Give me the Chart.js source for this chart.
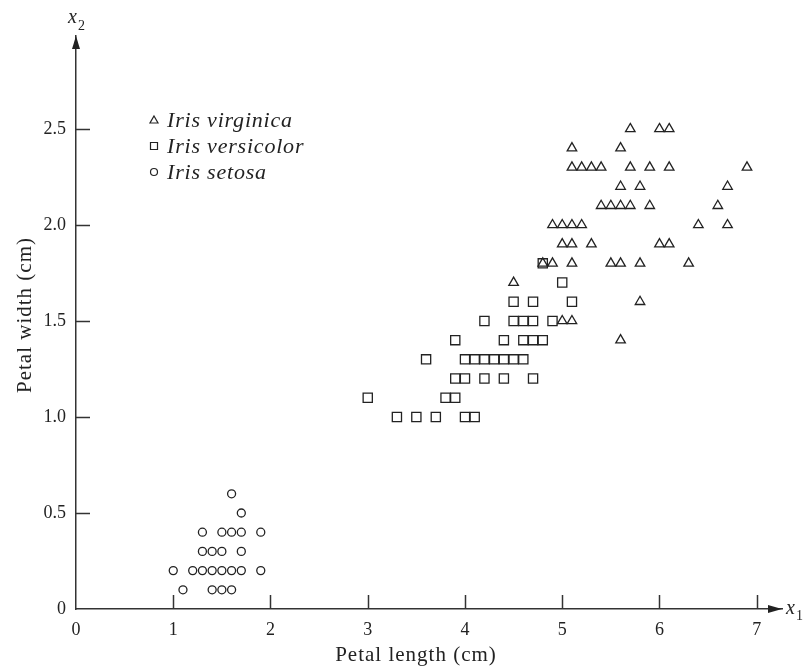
<!DOCTYPE html>
<html>
<head>
<meta charset="utf-8">
<script src="https://cdn.jsdelivr.net/npm/chart.js@4/dist/chart.umd.min.js"></script>
<style>
body{margin:0;background:#fff;}
#wrap{width:804px;height:667px;}
</style>
</head>
<body>
<div id="wrap"><canvas id="irisChart"></canvas></div>
<script>
// tick values and labels
const xTicks=[0,1,2,3,4,5,6,7];
const yTicks=[0,0.5,1.0,1.5,2.0,2.5];
const yTickLabels=['0','0.5','1.0','1.5','2.0','2.5'];
const xTitle='Petal length (cm)';
const yTitle='Petal width (cm)';

// petal length (x) / petal width (y)
const setosaX=[1.1,1.4,1.5,1.6, 1.0,1.2,1.3,1.4,1.5,1.6,1.7,1.9, 1.3,1.4,1.5,1.7, 1.3,1.5,1.6,1.7,1.9, 1.7, 1.6];
const setosaY=[0.1,0.1,0.1,0.1, 0.2,0.2,0.2,0.2,0.2,0.2,0.2,0.2, 0.3,0.3,0.3,0.3, 0.4,0.4,0.4,0.4,0.4, 0.5, 0.6];

const versicolorX=[3.3,3.5,3.7,4.0,4.1, 3.0,3.8,3.9, 3.9,4.0,4.2,4.4,4.7, 3.6,4.0,4.1,4.2,4.3,4.4,4.5,4.6, 3.9,4.4,4.6,4.7,4.8, 4.2,4.5,4.6,4.7,4.9, 4.5,4.7,5.1, 5.0, 4.8];
const versicolorY=[1.0,1.0,1.0,1.0,1.0, 1.1,1.1,1.1, 1.2,1.2,1.2,1.2,1.2, 1.3,1.3,1.3,1.3,1.3,1.3,1.3,1.3, 1.4,1.4,1.4,1.4,1.4, 1.5,1.5,1.5,1.5,1.5, 1.6,1.6,1.6, 1.7, 1.8];

const virginicaX=[5.6, 5.0,5.1, 5.8, 4.5, 4.8,4.9,5.1,5.5,5.6,5.8,6.3, 5.0,5.1,5.3,6.0,6.1, 4.9,5.0,5.1,5.2,6.4,6.7, 5.4,5.5,5.6,5.7,5.9,6.6, 5.6,5.8,6.7, 5.1,5.2,5.3,5.4,5.7,5.9,6.1,6.9, 5.1,5.6, 5.7,6.0,6.1];
const virginicaY=[1.4, 1.5,1.5, 1.6, 1.7, 1.8,1.8,1.8,1.8,1.8,1.8,1.8, 1.9,1.9,1.9,1.9,1.9, 2.0,2.0,2.0,2.0,2.0,2.0, 2.1,2.1,2.1,2.1,2.1,2.1, 2.2,2.2,2.2, 2.3,2.3,2.3,2.3,2.3,2.3,2.3,2.3, 2.4,2.4, 2.5,2.5,2.5];

const toPoints=(xs,ys)=>xs.map((v,i)=>({x:v,y:ys[i]}));

const ink='#222';
const serif='"Liberation Serif", "DejaVu Serif", serif';

const axisExtras={
    id:'axisExtras',
    afterDraw(chart){
        const {ctx,chartArea:a,scales:{x,y}}=chart;
        ctx.save();
        ctx.strokeStyle='#333';
        ctx.lineWidth=1.5;
        // tick marks pointing into the plot
        x.ticks.forEach(t=>{
            if(t.value===0) return;
            const px=Math.round(x.getPixelForValue(t.value))+0.5;
            ctx.beginPath();ctx.moveTo(px,a.bottom);ctx.lineTo(px,a.bottom-14);ctx.stroke();
        });
        y.ticks.forEach(t=>{
            if(t.value===0) return;
            const py=Math.round(y.getPixelForValue(t.value))+0.5;
            ctx.beginPath();ctx.moveTo(a.left,py);ctx.lineTo(a.left+14,py);ctx.stroke();
        });
        // arrow heads
        ctx.fillStyle=ink;
        ctx.beginPath();
        ctx.moveTo(a.right,a.bottom);ctx.lineTo(a.right-14,a.bottom-4);ctx.lineTo(a.right-14,a.bottom+4);
        ctx.closePath();ctx.fill();
        ctx.beginPath();
        ctx.moveTo(a.left,a.top);ctx.lineTo(a.left-4,a.top+13);ctx.lineTo(a.left+4,a.top+13);
        ctx.closePath();ctx.fill();
        // axis names x1, x2
        ctx.textBaseline='alphabetic';
        ctx.textAlign='left';
        ctx.font='italic 20px '+serif;
        ctx.fillText('x',a.right+4,a.bottom+5);
        ctx.fillText('x',a.left-8,a.top-13);
        ctx.font='14px '+serif;
        ctx.fillText('1',a.right+14,a.bottom+11);
        ctx.fillText('2',a.left+2,a.top-6);
        // axis titles
        ctx.letterSpacing='1px';
        ctx.font='21px '+serif;
        ctx.textAlign='center';
        ctx.textBaseline='middle';
        ctx.fillText(xTitle,416,655);
        ctx.save();
        ctx.translate(25,315);
        ctx.rotate(-Math.PI/2);
        ctx.fillText(yTitle,0,0);
        ctx.restore();
        // legend
        const rows=[120,146,172];
        const lx=154;
        ctx.lineWidth=1.2;
        ctx.strokeStyle=ink;
        ctx.textAlign='left';
        ctx.letterSpacing='0.8px';
        chart.data.datasets.forEach((ds,i)=>{
            const ly=rows[i];
            ctx.beginPath();
            if(ds.pointStyle==='triangle'){
                ctx.moveTo(lx,ly-4);ctx.lineTo(lx+4,ly+3);ctx.lineTo(lx-4,ly+3);ctx.closePath();
            }else if(ds.pointStyle==='rect'){
                ctx.rect(lx-3.5,ly-3.5,7,7);
            }else{
                ctx.arc(lx,ly,3.5,0,Math.PI*2);
            }
            ctx.stroke();
            ctx.font='italic 22px '+serif;
            ctx.textBaseline='middle';
            ctx.fillText(ds.label,lx+13,ly+1);
        });
        ctx.restore();
    }
};

new Chart(
    document.getElementById('irisChart'),
    {
        type:'scatter',
        data:{
            datasets:[
                {label:'Iris virginica',data:toPoints(virginicaX,virginicaY),pointStyle:'triangle',pointRadius:5.5,borderColor:ink,borderWidth:1.3,backgroundColor:'rgba(0,0,0,0)'},
                {label:'Iris versicolor',data:toPoints(versicolorX,versicolorY),pointStyle:'rect',pointRadius:6.5,borderColor:ink,borderWidth:1.3,backgroundColor:'rgba(0,0,0,0)'},
                {label:'Iris setosa',data:toPoints(setosaX,setosaY),pointStyle:'circle',pointRadius:4,borderColor:ink,borderWidth:1.3,backgroundColor:'rgba(0,0,0,0)'}
            ]
        },
        options:{
            responsive:true,
            maintainAspectRatio:false,
            animation:false,
            layout:{padding:{top:36,right:22,left:0,bottom:0}},
            plugins:{legend:{display:false},tooltip:{enabled:false}},
            scales:{
                x:{
                    type:'linear',min:0,max:7.26,
                    afterBuildTicks:s=>{s.ticks=xTicks.map(v=>({value:v}));},
                    afterFit:s=>{s.height=58;},
                    grid:{display:true,drawOnChartArea:false,drawTicks:false},
                    border:{display:true,color:'#333',width:1.5},
                    ticks:{color:ink,padding:10,maxRotation:0,font:{family:serif,size:18},callback:v=>String(v)},
                    title:{display:false}
                },
                y:{
                    type:'linear',min:0,max:2.984,
                    afterBuildTicks:s=>{s.ticks=yTicks.map(v=>({value:v}));},
                    afterFit:s=>{s.width=76;},
                    grid:{display:true,drawOnChartArea:false,drawTicks:false},
                    border:{display:true,color:'#333',width:1.5},
                    ticks:{color:ink,padding:10,font:{family:serif,size:18},callback:(v,i)=>yTickLabels[i]},
                    title:{display:false}
                }
            }
        },
        plugins:[axisExtras]
    }
);
</script>
</body>
</html>
